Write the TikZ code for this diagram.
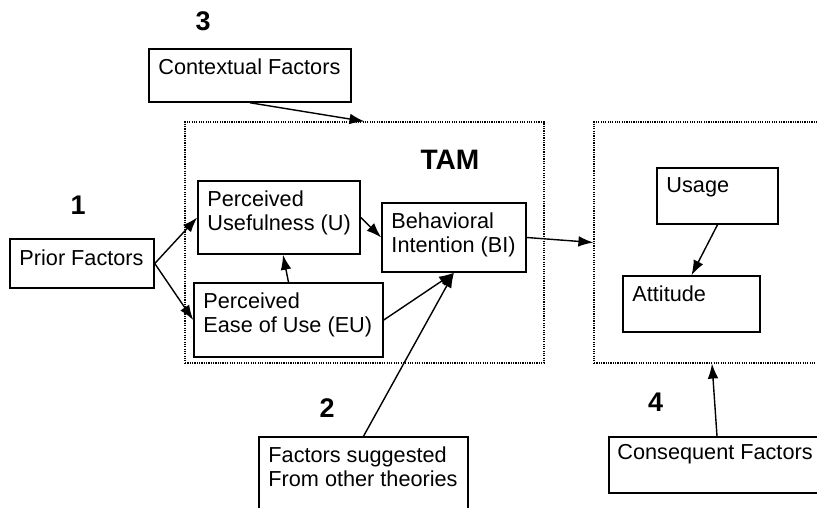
\documentclass[tikz,border=0pt]{standalone}
\usepackage{fontspec}
\setmainfont{Liberation Sans}
\usetikzlibrary{arrows.meta}

\begin{document}
\begin{tikzpicture}[x=0.03cm,y=-0.03cm,
    box/.style={draw,line width=1.3pt,inner sep=0pt},
    area/.style={draw,densely dotted,line width=1pt,inner sep=0pt},
    txt/.style={anchor=north west,inner sep=0pt,align=left,font=\fontsize{18.5}{20.5}\selectfont},
    num/.style={inner sep=0pt,font=\fontsize{23}{27}\selectfont\bfseries},
    link/.style={line width=1.2pt,-{Latex[length=0.45cm,width=0.32cm]}}]
  \useasboundingbox (0,0) rectangle (817,507);
  \clip (0,0) rectangle (817,507);

  % Dotted areas
  \node[area,minimum width=10.77cm,minimum height=7.23cm] (tam) at (364.5,242.5) {};
  \node[area,minimum width=7.08cm,minimum height=7.23cm] (out) at (712,242.5) {};
  \node[inner sep=0pt,font=\fontsize{24}{28}\selectfont\bfseries] (tam-t) at (450,160) {TAM};

  % Outside factors
  \node[box,minimum width=6.06cm,minimum height=1.59cm] (ctx) at (250,75.5) {};
  \node[txt] (ctx-t) at ([shift={(10,10)}]ctx.north west) {Contextual Factors};
  \node[box,minimum width=4.32cm,minimum height=1.47cm] (prior) at (82,263.5) {};
  \node[txt] (prior-t) at ([shift={(10,11)}]prior.north west) {Prior Factors};
  \node[box,minimum width=6.27cm,minimum height=2.49cm] (fac) at (363.5,478.5) {};
  \node[txt] (fac-t) at ([shift={(10,10)}]fac.north west) {Factors suggested\\From other theories};
  \node[box,minimum width=6.48cm,minimum height=1.68cm] (cons) at (717,465) {};
  \node[txt] (cons-t) at ([shift={(9,8)}]cons.north west) {Consequent Factors};

  % TAM constructs
  \node[box,minimum width=4.86cm,minimum height=2.19cm] (pu) at (279,217.5) {};
  \node[txt] (pu-t) at ([shift={(10,10)}]pu.north west) {Perceived\\Usefulness (U)};
  \node[box,minimum width=5.67cm,minimum height=2.22cm] (eu) at (288.5,320) {};
  \node[txt] (eu-t) at ([shift={(10,10)}]eu.north west) {Perceived\\Ease of Use (EU)};
  \node[box,minimum width=4.32cm,minimum height=2.07cm] (bi) at (454,237.5) {};
  \node[txt] (bi-t) at ([shift={(10,10)}]bi.north west) {Behavioral\\Intention (BI)};

  % Outcomes
  \node[box,minimum width=3.63cm,minimum height=1.68cm] (use) at (717.5,196) {};
  \node[txt] (use-t) at ([shift={(10,10)}]use.north west) {Usage};
  \node[box,minimum width=4.11cm,minimum height=1.68cm] (att) at (691.5,304) {};
  \node[txt] (att-t) at ([shift={(10,10)}]att.north west) {Attitude};

  % Numbers
  \node[num] (n3) at (203,21.5) {3};
  \node[num] (n1) at (78,205) {1};
  \node[num] (n2) at (327,408) {2};
  \node[num] (n4) at (655.5,402) {4};

  % Arrows
  \draw[link] (ctx.south) -- (tam.north);
  \draw[link] (prior.east) -- (pu.west);
  \draw[link] (prior.east) -- (eu.west);
  \draw[link] (eu.north) -- ([xshift=0.12cm]pu.south);
  \draw[link] (pu.east) -- (bi.west);
  \draw[link] (eu.east) -- (bi.south);
  \draw[link] (fac.north) -- (bi.south);
  \draw[link] (bi.east) -- (out.west);
  \draw[link] (use.south) -- (att.north);
  \draw[link] (cons.north) -- (out.south);
\end{tikzpicture}
\end{document}
